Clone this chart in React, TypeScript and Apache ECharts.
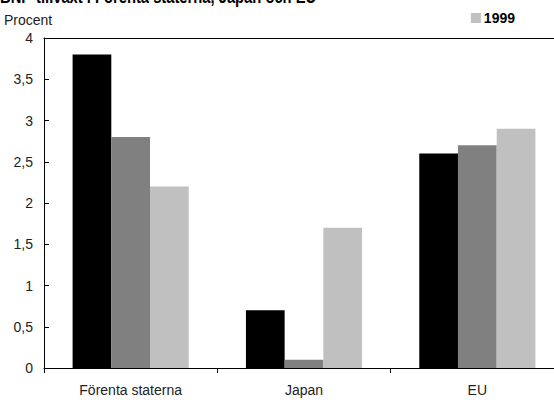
import React, { useEffect, useRef } from "react";
import * as echarts from "echarts";

const categories = ["Förenta staterna", "Japan", "EU"];
const seriesNames = ["1997", "1998", "1999"];
const values1997 = [3.8, 0.7, 2.6];
const values1998 = [2.8, 0.1, 2.7];
const values1999 = [2.2, 1.7, 2.9];
const seriesColors = ["#000000", "#808080", "#c0c0c0"];
const yTicks = [0, 0.5, 1, 1.5, 2, 2.5, 3, 3.5, 4];

const FONT = "'Liberation Sans', Arial, sans-serif";

export default function App() {
  const ref = useRef<HTMLDivElement>(null);

  useEffect(() => {
    if (!ref.current) return;
    const chart = echarts.init(ref.current, undefined, { renderer: "svg" });
    const data = [values1997, values1998, values1999];
    chart.setOption({
      animation: false,
      backgroundColor: "#ffffff",
      graphic: [
        {
          type: "text",
          left: 0,
          top: -13,
          scaleX: 0.82,
          style: {
            text: "BNP-tillväxt i Förenta staterna, Japan och EU",
            font: `bold 18px ${FONT}`,
            fill: "#000",
          },
        },
        {
          type: "text",
          left: 4,
          top: 13,
          style: {
            text: "Procent",
            font: `14px ${FONT}`,
            fill: "#222",
          },
        },
      ],
      legend: {
        data: ["1999"],
        right: 50,
        top: 6,
        itemWidth: 10,
        itemHeight: 10,
        itemGap: 4,
        icon: "rect",
        textStyle: { fontFamily: FONT, fontSize: 14, fontWeight: "bold", color: "#000", padding: [0, 0, 0, -2] },
      },
      grid: { left: 44, top: 38, bottom: 32, right: 6, containLabel: false },
      xAxis: [
        {
          type: "category",
          data: categories,
          axisLine: { lineStyle: { color: "#000", width: 1 } },
          axisTick: { show: true, length: 5, inside: false, lineStyle: { color: "#000" } },
          axisLabel: { fontFamily: FONT, fontSize: 14, color: "#222", margin: 15 },
        },
        {
          type: "category",
          data: categories,
          position: "top",
          axisLine: { lineStyle: { color: "#000", width: 1 } },
          axisTick: { show: false },
          axisLabel: { show: false },
        },
      ],
      yAxis: {
        type: "value",
        min: 0,
        max: 4,
        interval: 0.5,
        axisLine: { show: true, lineStyle: { color: "#000", width: 1 } },
        axisTick: { show: true, inside: true, length: 5, lineStyle: { color: "#000" } },
        splitLine: { show: false },
        axisLabel: {
          fontFamily: FONT,
          fontSize: 14,
          color: "#222",
          margin: 11,
          formatter: (v: number) => (yTicks.includes(v) ? String(v).replace(".", ",") : ""),
        },
      },
      series: seriesNames.map((name, i) => ({
        name,
        type: "bar",
        data: data[i],
        barGap: "0%",
        barCategoryGap: "33%",
        itemStyle: { color: seriesColors[i] },
      })),
    });
    return () => chart.dispose();
  }, []);

  // The plot area runs a little past the right edge of the visible frame.
  return (
    <div style={{ width: 554, height: 400, position: "absolute", left: 0, top: 0, overflow: "hidden" }}>
      <div ref={ref} style={{ width: 570, height: 400 }} />
    </div>
  );
}
